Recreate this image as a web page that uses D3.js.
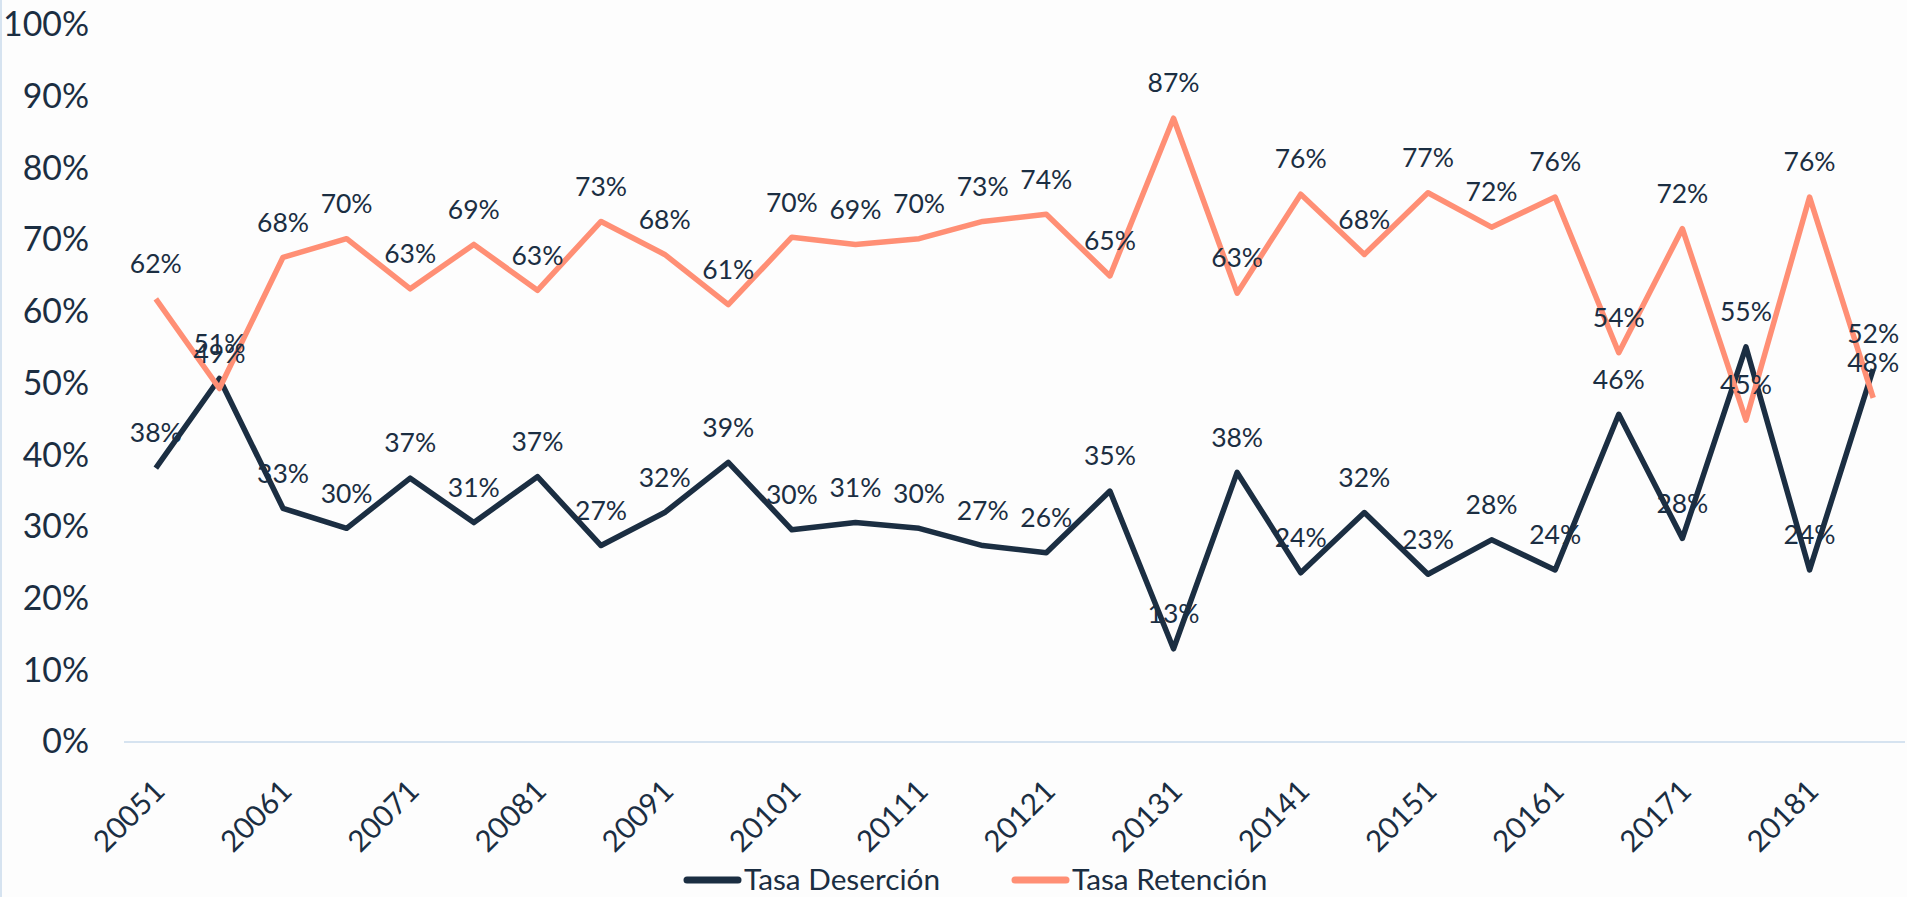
<!DOCTYPE html>
<html>
<head>
<meta charset="utf-8">
<script src="https://cdn.jsdelivr.net/npm/d3@7"></script>
<style>
  html, body { margin: 0; padding: 0; background: #fdfdfd; }
  svg { display: block; font-family: Lato, "Open Sans", sans-serif; }
</style>
</head>
<body>
<div id="chart"></div>
<script>
var periods = ["20051","20052","20061","20062","20071","20072","20081","20082","20091","20092",
    "20101","20102","20111","20112","20121","20122","20131","20132","20141","20142",
    "20151","20152","20161","20162","20171","20172","20181","20182"];
var tickPeriods = ["20051","20061","20071","20081","20091","20101","20111","20121","20131","20141","20151","20161","20171","20181"];
var yTicks = [0, 10, 20, 30, 40, 50, 60, 70, 80, 90, 100];
var desercion = [38.2, 50.7, 32.6, 29.8, 36.8, 30.6, 37.0, 27.4, 32.0, 39.0,
    29.6, 30.6, 29.8, 27.4, 26.4, 35.0, 13.0, 37.6, 23.6, 32.0,
    23.4, 28.2, 24.0, 45.7, 28.4, 55.1, 24.0, 52.0];
var retencion = [61.8, 49.3, 67.6, 70.2, 63.2, 69.4, 63.0, 72.6, 68.0, 61.0,
    70.4, 69.4, 70.2, 72.6, 73.6, 65.0, 87.0, 62.6, 76.4, 68.0,
    76.6, 71.8, 76.0, 54.3, 71.6, 44.9, 76.0, 48.0];
var seriesNames = ["Tasa Deserción", "Tasa Retención"];
var seriesColors = ["#1b2e42", "#ff8f75"];
var textColor = "#1b2e42";

var W = 1907, H = 897;
var plotLeft = 124, plotRight = 1905, plotTop = 25, plotBottom = 742;

var svg = d3.select("#chart").append("svg")
    .attr("width", W)
    .attr("height", H);

// pick a font size so that a sample string gets a given width
function fitSize(sample, targetWidth){
    var t = svg.append("text").style("font-size", "100px").text(sample);
    var w = t.node().getComputedTextLength();
    t.remove();
    return 100 * targetWidth / w;
}
var yTickSize = fitSize("100%", 86);
var xTickSize = fitSize("20051", 86);
var labelSize = fitSize("62%", 52);
var legendSize = fitSize("Tasa Deserción", 196);

svg.append("rect").attr("width", W).attr("height", H).attr("fill", "#fdfdfd");
svg.append("line")
    .attr("x1", 1).attr("x2", 1).attr("y1", 0).attr("y2", H)
    .attr("stroke", "#d6e3f0").attr("stroke-width", 2);

var x = d3.scaleBand().domain(periods).range([plotLeft, plotRight]);
var y = d3.scaleLinear().domain([0, 100]).range([plotBottom, plotTop]);

// y axis labels
var yAxis = d3.axisLeft(y)
    .tickValues(yTicks)
    .tickSize(0)
    .tickPadding(0)
    .tickFormat(function(d){ return d + "%"; });
var gy = svg.append("g")
    .attr("transform", "translate(89,0)")
    .call(yAxis);
gy.attr("font-family", null).attr("font-size", null);
gy.select(".domain").remove();
gy.selectAll("text")
    .style("font-size", yTickSize + "px")
    .style("fill", textColor);

// baseline
svg.append("line")
    .attr("x1", plotLeft).attr("x2", plotRight)
    .attr("y1", y(0)).attr("y2", y(0))
    .attr("stroke", "#d6e3f0").attr("stroke-width", 2);

// x axis labels (rotated around their centre)
var xAxis = d3.axisBottom(x).tickValues(tickPeriods).tickSize(0).tickPadding(0);
var gx = svg.append("g")
    .attr("transform", "translate(0,816)")
    .call(xAxis);
gx.attr("font-family", null).attr("font-size", null);
gx.select(".domain").remove();
gx.selectAll("text")
    .style("font-size", xTickSize + "px")
    .style("fill", textColor)
    .attr("text-anchor", "middle")
    .attr("y", 0)
    .attr("dy", "0.35em")
    .attr("transform", "translate(-27,0) rotate(-45)");

// lines
var line = d3.line()
    .x(function(d, i){ return x(periods[i]) + x.bandwidth() / 2; })
    .y(function(d){ return y(d); });

var allSeries = [desercion, retencion];
allSeries.forEach(function(vals, s){
    svg.append("path")
        .datum(vals)
        .attr("fill", "none")
        .attr("stroke", seriesColors[s])
        .attr("stroke-width", 5.5)
        .attr("stroke-linejoin", "round")
        .attr("d", line);
});

// data labels
allSeries.forEach(function(vals, s){
    svg.append("g").selectAll("text")
        .data(vals)
        .enter().append("text")
        .attr("x", function(d, i){ return x(periods[i]) + x.bandwidth() / 2; })
        .attr("y", function(d){ return y(d) - 35; })
        .attr("dy", "0.35em")
        .attr("text-anchor", "middle")
        .style("font-size", labelSize + "px")
        .attr("fill", textColor)
        .text(function(d){ return Math.round(d) + "%"; });
});

// legend
var legendX = [687, 1015];
legendX.forEach(function(lx, s){
    svg.append("line")
        .attr("x1", lx).attr("x2", lx + 51)
        .attr("y1", 880).attr("y2", 880)
        .attr("stroke", seriesColors[s])
        .attr("stroke-width", 7)
        .attr("stroke-linecap", "round");
    svg.append("text")
        .attr("x", lx + 57)
        .attr("y", 880)
        .attr("dy", "0.35em")
        .style("font-size", legendSize + "px")
        .attr("fill", textColor)
        .text(seriesNames[s]);
});
</script>
</body>
</html>
